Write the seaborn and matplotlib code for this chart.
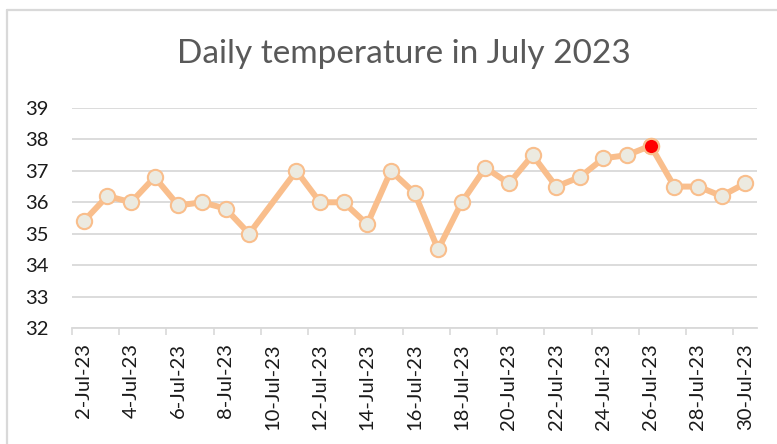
import matplotlib
matplotlib.use("Agg")
import matplotlib.pyplot as plt
import matplotlib.dates as mdates
from matplotlib.lines import Line2D
from matplotlib.ticker import FuncFormatter
import seaborn as sns
import pandas as pd

# Daily readings (no reading on 10 July)
dates = ["2023-07-02", "2023-07-03", "2023-07-04", "2023-07-05", "2023-07-06",
         "2023-07-07", "2023-07-08", "2023-07-09", "2023-07-11", "2023-07-12",
         "2023-07-13", "2023-07-14", "2023-07-15", "2023-07-16", "2023-07-17",
         "2023-07-18", "2023-07-19", "2023-07-20", "2023-07-21", "2023-07-22",
         "2023-07-23", "2023-07-24", "2023-07-25", "2023-07-26", "2023-07-27",
         "2023-07-28", "2023-07-29", "2023-07-30"]
temps = [35.4, 36.2, 36.0, 36.8, 35.9,
         36.0, 35.8, 35.0, 37.0, 36.0,
         36.0, 35.3, 37.0, 36.3, 34.5,
         36.0, 37.1, 36.6, 37.5, 36.5,
         36.8, 37.4, 37.5, 37.8, 36.5,
         36.5, 36.2, 36.6]
title = "Daily temperature in July 2023"
y_ticks = [32, 33, 34, 35, 36, 37, 38, 39]

line_color = "#F9BE8C"
marker_fill = "#ECEAE0"
grid_color = "#D9D9D9"

sns.set_theme(style="white")
plt.rcParams["font.family"] = ["Lato", "DejaVu Sans"]

df = pd.DataFrame({"date": pd.to_datetime(dates), "temp": temps})

W, H = 777, 444
fig = plt.figure(figsize=(W / 100, H / 100), dpi=100)
ax = fig.add_axes([72 / W, 1 - 328 / H, 685 / W, 220 / H])

sns.lineplot(data=df, x="date", y="temp", ax=ax, color=line_color,
             linewidth=4.3, marker="o", markersize=11,
             markerfacecolor=marker_fill, markeredgecolor=line_color,
             markeredgewidth=1.5, zorder=3)

# highlight the hottest day
peak = df.loc[df["temp"].idxmax()]
sns.scatterplot(x=[peak["date"]], y=[peak["temp"]], ax=ax, color="#FF0000",
                s=120, edgecolor=line_color, linewidth=1.5, zorder=5)

ax.set_xlim(pd.Timestamp("2023-07-01 12:00"), pd.Timestamp("2023-07-30 12:00"))
ax.set_ylim(32, 39)
ax.set_yticks(y_ticks)

major = pd.date_range("2023-07-02", "2023-07-30", freq="2D")
minor = pd.date_range("2023-07-01 12:00", "2023-07-29 12:00", freq="2D")
ax.set_xticks(major)
ax.set_xticks(minor, minor=True)
ax.xaxis.set_major_formatter(FuncFormatter(
    lambda v, pos: (lambda d: f"{d.day}-{d:%b}-{d:%y}")(mdates.num2date(v))))
ax.tick_params(axis="x", which="major", length=0, pad=11, rotation=90,
               labelsize=14.5, labelcolor="#1a1a1a")
ax.tick_params(axis="x", which="minor", length=5, width=1.2, color=grid_color,
               direction="out", bottom=True)
ax.tick_params(axis="y", length=0, pad=17, labelsize=14.5, labelcolor="#1a1a1a")
for lab in ax.get_xticklabels():
    lab.set_verticalalignment("top")

ax.set_xlabel("")
ax.set_ylabel("")
ax.grid(axis="y", color=grid_color, linewidth=1.3)
ax.grid(axis="x", visible=False)
ax.set_axisbelow(True)
for side in ["top", "right", "left"]:
    ax.spines[side].set_visible(False)
ax.spines["bottom"].set_color(grid_color)
ax.spines["bottom"].set_linewidth(1.3)

# chart area outline
fig.add_artist(Line2D([7 / W, 1], [1 - 10 / H, 1 - 10 / H], color=grid_color,
                      linewidth=1.6, transform=fig.transFigure))
fig.add_artist(Line2D([7 / W, 7 / W], [1 - 10 / H, 0], color=grid_color,
                      linewidth=1.6, transform=fig.transFigure))

fig.text(404 / W, 1 - 54 / H, title, ha="center", va="center",
         fontsize=24, color="#595959")

fig.savefig("out.png", dpi=100, facecolor="white")
